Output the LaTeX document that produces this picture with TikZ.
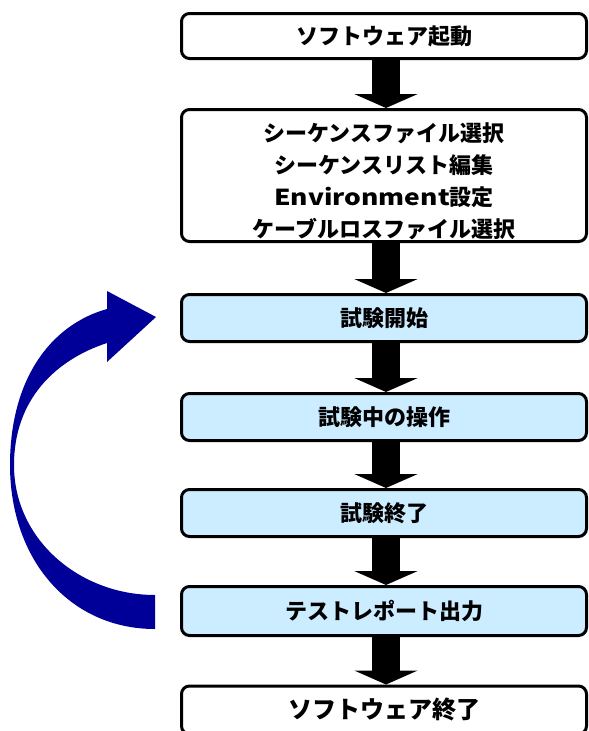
\documentclass[tikz,border=0pt]{standalone}
\usepackage{fontspec}
\usepackage{graphicx}
\newfontfamily\jp{Noto Sans CJK JP}
\usetikzlibrary{arrows.meta,calc}
\definecolor{boxblue}{RGB}{204,236,255}
\definecolor{loopblue}{RGB}{0,0,153}
\begin{document}
\begin{tikzpicture}[x=1pt,y=-1pt,
  stepbox/.style={draw=black, line width=3pt, rounded corners=8pt, minimum width=405pt,
    inner sep=0pt, font=\jp\bfseries\fontsize{22}{32}\selectfont, align=center},
  whitebox/.style={stepbox, fill=white},
  bluebox/.style={stepbox, fill=boxblue},
  boxtext/.style={inner sep=0pt, font=\jp\bfseries\fontsize{22}{32}\selectfont, align=center},
  downarrow/.style={draw=black, line width=28pt, -{Triangle[width=63pt,length=14pt]}}
]
\useasboundingbox (0,0) rectangle (589,731);
\clip (0,0) rectangle (589,731);

\node[whitebox, minimum height=45pt]  (b1) at (384,36)    {ソフトウェア起動};
\node[whitebox, minimum height=132pt] (b2) at (384,175.5) {};
\node[boxtext] (b2t) at (384,181) {シーケンスファイル選択\\シーケンスリスト編集\\\scalebox{1.2}[1]{Environment}設定\\ケーブルロスファイル選択};
\node[bluebox,  minimum height=47pt]  (b3) at (384,318)   {試験開始};
\node[bluebox,  minimum height=47pt]  (b4) at (384,417)   {試験中の操作};
\node[bluebox,  minimum height=47pt]  (b5) at (384,513)   {試験終了};
\node[bluebox,  minimum height=49pt]  (b6) at (384,611)   {テストレポート出力};
\node[whitebox, minimum height=48pt, font=\jp\bfseries\fontsize{24}{30}\selectfont]  (b7) at (384,710) {ソフトウェア終了};

\draw[downarrow] ([xshift=2pt]b1.south) -- ([xshift=2pt]b2.north);
\draw[downarrow] ([xshift=2pt]b2.south) -- ([xshift=2pt]b3.north);
\draw[downarrow] ([xshift=2pt]b3.south) -- ([xshift=2pt]b4.north);
\draw[downarrow] ([xshift=2pt]b4.south) -- ([xshift=2pt]b5.north);
\draw[downarrow] ([xshift=2pt]b5.south) -- ([xshift=2pt]b6.north);
\draw[downarrow] ([xshift=2pt]b6.south) -- ([xshift=2pt]b7.north);

\coordinate (T) at ($(b6.west)+(-25,1)$);
\coordinate (H) at ($(b3.west)+(-24,-1)$);
\fill[loopblue]
  ($(T)+(0,17)$) .. controls ($(T)+(-85,17)$) and ($(T)+(-145,-52)$) .. ($(T)+(-145,-147)$)
  .. controls ($(H)+(-146,63)$) and ($(H)+(-106,8)$) .. ($(H)+(-49,-8)$)
  -- ($(H)+(-49,-26)$) -- (H) -- ($(H)+(-49,45)$) -- ($(H)+(-49,26)$)
  .. controls ($(H)+(-101,43)$) and ($(H)+(-142,83)$) .. ($(T)+(-141,-147)$)
  .. controls ($(T)+(-141,-72)$) and ($(T)+(-75,-17)$) .. ($(T)+(0,-17)$)
  -- cycle;
\end{tikzpicture}
\end{document}
